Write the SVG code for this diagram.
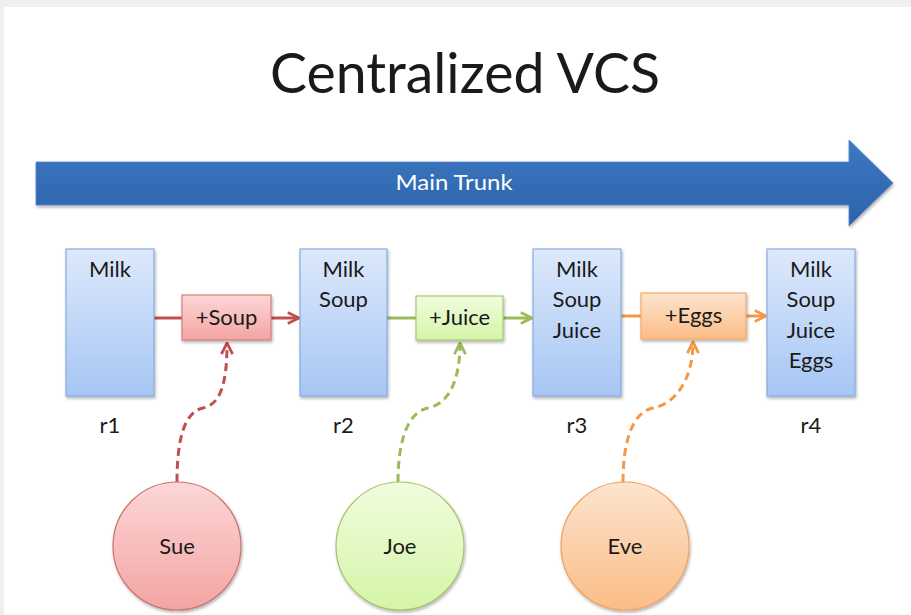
<svg xmlns="http://www.w3.org/2000/svg" width="911" height="615" viewBox="0 0 911 615">
<style>
text{font-family:Lato,"Liberation Sans",sans-serif;fill:#1a1a1a;text-anchor:middle}
.t{font-size:22px}
.rev{fill:url(#gBlue);stroke:#86acdf;stroke-width:1.2;filter:url(#sh)}
.ln{fill:none;stroke-width:3}
.ds{fill:none;stroke-width:3;stroke-dasharray:8 5}
.red{stroke:#c0504d}
.grn{stroke:#9bbb59}
.org{stroke:#f79646}
</style>
<defs>
<filter id="sh" x="-20%" y="-20%" width="140%" height="140%">
<feDropShadow dx="1" dy="2" stdDeviation="1.5" flood-color="#000" flood-opacity="0.3"/>
</filter>
<linearGradient id="gTrunk" x1="0" y1="0" x2="0" y2="1"><stop offset="0" stop-color="#3b78c3"/><stop offset="1" stop-color="#2d62a8"/></linearGradient>
<linearGradient id="gBlue" x1="0" y1="0" x2="0" y2="1"><stop offset="0" stop-color="#dde9fb"/><stop offset="1" stop-color="#a6c6f4"/></linearGradient>
<linearGradient id="gRed" x1="0" y1="0" x2="0" y2="1"><stop offset="0" stop-color="#fcd7d6"/><stop offset="1" stop-color="#f3a4a3"/></linearGradient>
<linearGradient id="gGrn" x1="0" y1="0" x2="0" y2="1"><stop offset="0" stop-color="#f0fddd"/><stop offset="1" stop-color="#d5f4a8"/></linearGradient>
<linearGradient id="gOrg" x1="0" y1="0" x2="0" y2="1"><stop offset="0" stop-color="#fde4cf"/><stop offset="1" stop-color="#fbbd86"/></linearGradient>
<marker id="aRed" viewBox="0 0 10 10" refX="9" refY="5" markerWidth="14" markerHeight="14" markerUnits="userSpaceOnUse" orient="auto"><path d="M1,1 L9,5 L1,9" fill="none" stroke="#c0504d" stroke-width="2" stroke-dasharray="none"/></marker>
<marker id="aGrn" viewBox="0 0 10 10" refX="9" refY="5" markerWidth="14" markerHeight="14" markerUnits="userSpaceOnUse" orient="auto"><path d="M1,1 L9,5 L1,9" fill="none" stroke="#9bbb59" stroke-width="2" stroke-dasharray="none"/></marker>
<marker id="aOrg" viewBox="0 0 10 10" refX="9" refY="5" markerWidth="14" markerHeight="14" markerUnits="userSpaceOnUse" orient="auto"><path d="M1,1 L9,5 L1,9" fill="none" stroke="#f79646" stroke-width="2" stroke-dasharray="none"/></marker>
</defs>
<rect x="0" y="0" width="911" height="615" fill="#efefef"/>
<rect x="4" y="7" width="907" height="608" fill="#ffffff"/>
<text x="465" y="93" font-size="56" textLength="390" lengthAdjust="spacingAndGlyphs">Centralized VCS</text>
<g id="trunk">
<path d="M36,162 H849 V140 L893,183 L849,226 V205 H36 Z" fill="url(#gTrunk)" stroke="#5585c6" stroke-width="0.8" filter="url(#sh)"/>
<text x="454" y="190" font-size="21" style="fill:#ffffff" textLength="117" lengthAdjust="spacingAndGlyphs">Main Trunk</text>
</g>
<g id="connectors">
<path class="ln red" d="M154,318 H182"/>
<path class="ln red" d="M271,318 H299" marker-end="url(#aRed)"/>
<path class="ln grn" d="M387,318 H416"/>
<path class="ln grn" d="M503,318 H532" marker-end="url(#aGrn)"/>
<path class="ln org" d="M621,316 H641"/>
<path class="ln org" d="M746,316 H766" marker-end="url(#aOrg)"/>
<path class="ds red" d="M177,482 C177,440 184,412 203,408 C222,404 227,380 227,343" marker-end="url(#aRed)"/>
<path class="ds grn" d="M398,482 C398,440 408,412 428,408 C449,404 460,380 460,343" marker-end="url(#aGrn)"/>
<path class="ds org" d="M623,482 C623,440 633,412 653,408 C675,404 693,380 693,342" marker-end="url(#aOrg)"/>
</g>
<g id="r1">
<rect class="rev" x="66" y="249" width="88" height="147"/>
<text class="t" x="110" y="277">Milk</text>
<text class="t" x="110" y="433">r1</text>
</g>
<g id="r2">
<rect class="rev" x="300" y="249" width="87" height="147"/>
<text class="t" x="343.5" y="277">Milk</text>
<text class="t" x="343.5" y="307">Soup</text>
<text class="t" x="343.5" y="433">r2</text>
</g>
<g id="r3">
<rect class="rev" x="533" y="249" width="88" height="147"/>
<text class="t" x="577" y="277">Milk</text>
<text class="t" x="577" y="307">Soup</text>
<text class="t" x="577" y="338">Juice</text>
<text class="t" x="577" y="433">r3</text>
</g>
<g id="r4">
<rect class="rev" x="767" y="249" width="88" height="147"/>
<text class="t" x="811" y="277">Milk</text>
<text class="t" x="811" y="307">Soup</text>
<text class="t" x="811" y="338">Juice</text>
<text class="t" x="811" y="368">Eggs</text>
<text class="t" x="811" y="433">r4</text>
</g>
<g id="soup">
<rect x="182" y="295" width="89" height="45" fill="url(#gRed)" stroke="#d27d7b" stroke-width="1.2" filter="url(#sh)"/>
<text class="t" x="226.5" y="325">+Soup</text>
</g>
<g id="juice">
<rect x="416" y="296" width="87" height="44" fill="url(#gGrn)" stroke="#a9c96e" stroke-width="1.2" filter="url(#sh)"/>
<text class="t" x="459.5" y="325">+Juice</text>
</g>
<g id="eggs">
<rect x="641" y="293" width="105" height="46" fill="url(#gOrg)" stroke="#f5a866" stroke-width="1.2" filter="url(#sh)"/>
<text class="t" x="693.5" y="323">+Eggs</text>
</g>
<g id="sue">
<circle cx="177" cy="546" r="64" fill="url(#gRed)" stroke="#c9716f" stroke-width="1.2" filter="url(#sh)"/>
<text class="t" x="177" y="554">Sue</text>
</g>
<g id="joe">
<circle cx="400" cy="546" r="64" fill="url(#gGrn)" stroke="#a3c468" stroke-width="1.2" filter="url(#sh)"/>
<text class="t" x="400" y="554">Joe</text>
</g>
<g id="eve">
<circle cx="625" cy="546" r="64" fill="url(#gOrg)" stroke="#f0a060" stroke-width="1.2" filter="url(#sh)"/>
<text class="t" x="625" y="554">Eve</text>
</g>
</svg>
